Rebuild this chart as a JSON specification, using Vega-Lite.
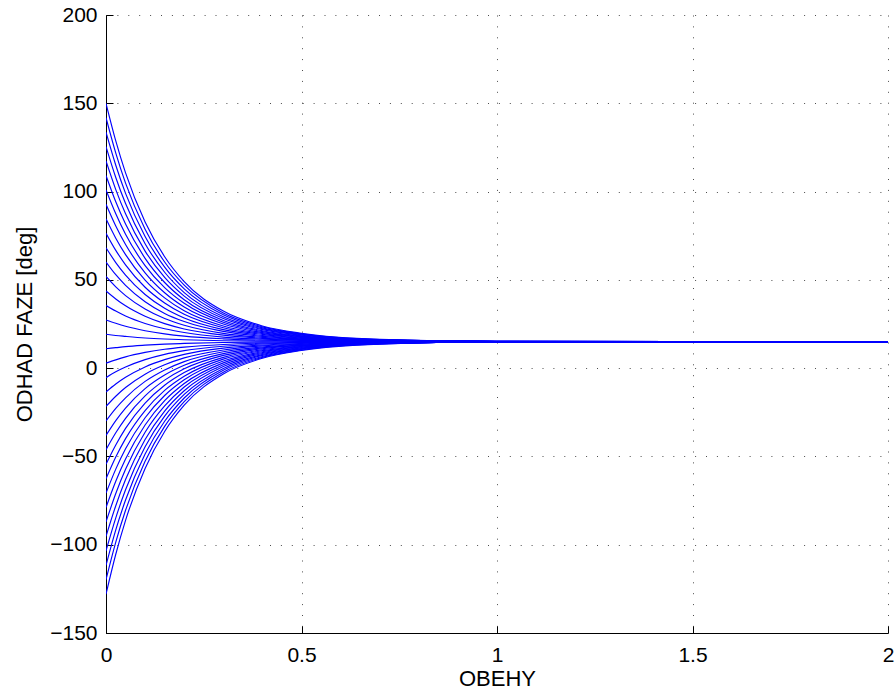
{
  "$schema": "https://vega.github.io/schema/vega-lite/v6.json",
  "width": 782,
  "height": 618,
  "autosize": {"type": "none"},
  "padding": {"left": 106, "top": 15, "right": 8, "bottom": 62},
  "background": "white",
  "config": {
    "view": {"stroke": null},
    "axis": {
      "domainColor": "#000000",
      "domainWidth": 1,
      "tickColor": "#000000",
      "tickSize": -7,
      "tickWidth": 1,
      "gridColor": "#000000",
      "gridOpacity": 0.7,
      "gridWidth": 1,
      "gridDash": [1, 9.9],
      "labelFont": "Liberation Sans",
      "labelFontSize": 21,
      "labelColor": "#000000",
      "titleFont": "Liberation Sans",
      "titleFontSize": 22,
      "titleFontWeight": "normal",
      "titleColor": "#000000"
    }
  },
  "data": {
    "values": [
      {"c":0,"x":0,"y":-128},{"c":0,"x":0.025,"y":-105.4},{"c":0,"x":0.05,"y":-86.2},{"c":0,"x":0.1,"y":-56.8},{"c":0,"x":0.15,"y":-35.9},{"c":0,"x":0.2,"y":-21.0},{"c":0,"x":0.3,"y":-3.3},{"c":0,"x":0.4,"y":5.6},{"c":0,"x":0.5,"y":10.0},{"c":0,"x":0.7,"y":13.6},{"c":0,"x":1,"y":14.8},{"c":0,"x":2,"y":15},
      {"c":1,"x":0,"y":-119.8},{"c":1,"x":0.025,"y":-98.5},{"c":1,"x":0.05,"y":-80.5},{"c":1,"x":0.1,"y":-52.7},{"c":1,"x":0.15,"y":-33.0},{"c":1,"x":0.2,"y":-19.0},{"c":1,"x":0.3,"y":-2.3},{"c":1,"x":0.4,"y":6.1},{"c":1,"x":0.5,"y":10.3},{"c":1,"x":0.7,"y":13.7},{"c":1,"x":1,"y":14.8},{"c":1,"x":2,"y":15},
      {"c":2,"x":0,"y":-111.7},{"c":2,"x":0.025,"y":-91.6},{"c":2,"x":0.05,"y":-74.7},{"c":2,"x":0.1,"y":-48.6},{"c":2,"x":0.15,"y":-30.1},{"c":2,"x":0.2,"y":-16.9},{"c":2,"x":0.3,"y":-1.2},{"c":2,"x":0.4,"y":6.6},{"c":2,"x":0.5,"y":10.6},{"c":2,"x":0.7,"y":13.8},{"c":2,"x":1,"y":14.8},{"c":2,"x":2,"y":15},
      {"c":3,"x":0,"y":-103.5},{"c":3,"x":0.025,"y":-84.8},{"c":3,"x":0.05,"y":-68.9},{"c":3,"x":0.1,"y":-44.5},{"c":3,"x":0.15,"y":-27.2},{"c":3,"x":0.2,"y":-14.9},{"c":3,"x":0.3,"y":-0.2},{"c":3,"x":0.4,"y":7.2},{"c":3,"x":0.5,"y":10.9},{"c":3,"x":0.7,"y":13.9},{"c":3,"x":1,"y":14.8},{"c":3,"x":2,"y":15},
      {"c":4,"x":0,"y":-95.3},{"c":4,"x":0.025,"y":-77.9},{"c":4,"x":0.05,"y":-63.1},{"c":4,"x":0.1,"y":-40.4},{"c":4,"x":0.15,"y":-24.3},{"c":4,"x":0.2,"y":-12.8},{"c":4,"x":0.3,"y":0.9},{"c":4,"x":0.4,"y":7.7},{"c":4,"x":0.5,"y":11.1},{"c":4,"x":0.7,"y":14.0},{"c":4,"x":1,"y":14.8},{"c":4,"x":2,"y":15},
      {"c":5,"x":0,"y":-87.1},{"c":5,"x":0.025,"y":-71.0},{"c":5,"x":0.05,"y":-57.3},{"c":5,"x":0.1,"y":-36.3},{"c":5,"x":0.15,"y":-21.4},{"c":5,"x":0.2,"y":-10.7},{"c":5,"x":0.3,"y":1.9},{"c":5,"x":0.4,"y":8.3},{"c":5,"x":0.5,"y":11.4},{"c":5,"x":0.7,"y":14.0},{"c":5,"x":1,"y":14.8},{"c":5,"x":2,"y":15},
      {"c":6,"x":0,"y":-78.9},{"c":6,"x":0.025,"y":-64.1},{"c":6,"x":0.05,"y":-51.5},{"c":6,"x":0.1,"y":-32.2},{"c":6,"x":0.15,"y":-18.4},{"c":6,"x":0.2,"y":-8.7},{"c":6,"x":0.3,"y":3.0},{"c":6,"x":0.4,"y":8.8},{"c":6,"x":0.5,"y":11.7},{"c":6,"x":0.7,"y":14.1},{"c":6,"x":1,"y":14.9},{"c":6,"x":2,"y":15},
      {"c":7,"x":0,"y":-70.8},{"c":7,"x":0.025,"y":-57.2},{"c":7,"x":0.05,"y":-45.7},{"c":7,"x":0.1,"y":-28.1},{"c":7,"x":0.15,"y":-15.5},{"c":7,"x":0.2,"y":-6.6},{"c":7,"x":0.3,"y":4.0},{"c":7,"x":0.4,"y":9.3},{"c":7,"x":0.5,"y":12.0},{"c":7,"x":0.7,"y":14.2},{"c":7,"x":1,"y":14.9},{"c":7,"x":2,"y":15},
      {"c":8,"x":0,"y":-62.6},{"c":8,"x":0.025,"y":-50.3},{"c":8,"x":0.05,"y":-39.9},{"c":8,"x":0.1,"y":-24.0},{"c":8,"x":0.15,"y":-12.6},{"c":8,"x":0.2,"y":-4.6},{"c":8,"x":0.3,"y":5.1},{"c":8,"x":0.4,"y":9.9},{"c":8,"x":0.5,"y":12.3},{"c":8,"x":0.7,"y":14.3},{"c":8,"x":1,"y":14.9},{"c":8,"x":2,"y":15},
      {"c":9,"x":0,"y":-54.4},{"c":9,"x":0.025,"y":-43.5},{"c":9,"x":0.05,"y":-34.1},{"c":9,"x":0.1,"y":-19.8},{"c":9,"x":0.15,"y":-9.7},{"c":9,"x":0.2,"y":-2.5},{"c":9,"x":0.3,"y":6.1},{"c":9,"x":0.4,"y":10.4},{"c":9,"x":0.5,"y":12.6},{"c":9,"x":0.7,"y":14.3},{"c":9,"x":1,"y":14.9},{"c":9,"x":2,"y":15},
      {"c":10,"x":0,"y":-46.2},{"c":10,"x":0.025,"y":-36.6},{"c":10,"x":0.05,"y":-28.4},{"c":10,"x":0.1,"y":-15.7},{"c":10,"x":0.15,"y":-6.8},{"c":10,"x":0.2,"y":-0.4},{"c":10,"x":0.3,"y":7.2},{"c":10,"x":0.4,"y":11.0},{"c":10,"x":0.5,"y":12.9},{"c":10,"x":0.7,"y":14.4},{"c":10,"x":1,"y":14.9},{"c":10,"x":2,"y":15},
      {"c":11,"x":0,"y":-38.1},{"c":11,"x":0.025,"y":-29.7},{"c":11,"x":0.05,"y":-22.6},{"c":11,"x":0.1,"y":-11.6},{"c":11,"x":0.15,"y":-3.9},{"c":11,"x":0.2,"y":1.6},{"c":11,"x":0.3,"y":8.2},{"c":11,"x":0.4,"y":11.5},{"c":11,"x":0.5,"y":13.1},{"c":11,"x":0.7,"y":14.5},{"c":11,"x":1,"y":14.9},{"c":11,"x":2,"y":15},
      {"c":12,"x":0,"y":-29.9},{"c":12,"x":0.025,"y":-22.8},{"c":12,"x":0.05,"y":-16.8},{"c":12,"x":0.1,"y":-7.5},{"c":12,"x":0.15,"y":-1.0},{"c":12,"x":0.2,"y":3.7},{"c":12,"x":0.3,"y":9.3},{"c":12,"x":0.4,"y":12.0},{"c":12,"x":0.5,"y":13.4},{"c":12,"x":0.7,"y":14.6},{"c":12,"x":1,"y":14.9},{"c":12,"x":2,"y":15},
      {"c":13,"x":0,"y":-21.7},{"c":13,"x":0.025,"y":-15.9},{"c":13,"x":0.05,"y":-11.0},{"c":13,"x":0.1,"y":-3.4},{"c":13,"x":0.15,"y":1.9},{"c":13,"x":0.2,"y":5.8},{"c":13,"x":0.3,"y":10.3},{"c":13,"x":0.4,"y":12.6},{"c":13,"x":0.5,"y":13.7},{"c":13,"x":0.7,"y":14.7},{"c":13,"x":1,"y":14.9},{"c":13,"x":2,"y":15},
      {"c":14,"x":0,"y":-13.5},{"c":14,"x":0.025,"y":-9.0},{"c":14,"x":0.05,"y":-5.2},{"c":14,"x":0.1,"y":0.7},{"c":14,"x":0.15,"y":4.8},{"c":14,"x":0.2,"y":7.8},{"c":14,"x":0.3,"y":11.3},{"c":14,"x":0.4,"y":13.1},{"c":14,"x":0.5,"y":14.0},{"c":14,"x":0.7,"y":14.7},{"c":14,"x":1,"y":15.0},{"c":14,"x":2,"y":15},
      {"c":15,"x":0,"y":-5.4},{"c":15,"x":0.025,"y":-2.1},{"c":15,"x":0.05,"y":0.6},{"c":15,"x":0.1,"y":4.8},{"c":15,"x":0.15,"y":7.8},{"c":15,"x":0.2,"y":9.9},{"c":15,"x":0.3,"y":12.4},{"c":15,"x":0.4,"y":13.7},{"c":15,"x":0.5,"y":14.3},{"c":15,"x":0.7,"y":14.8},{"c":15,"x":1,"y":15.0},{"c":15,"x":2,"y":15},
      {"c":16,"x":0,"y":2.8},{"c":16,"x":0.025,"y":4.7},{"c":16,"x":0.05,"y":6.4},{"c":16,"x":0.1,"y":8.9},{"c":16,"x":0.15,"y":10.7},{"c":16,"x":0.2,"y":11.9},{"c":16,"x":0.3,"y":13.4},{"c":16,"x":0.4,"y":14.2},{"c":16,"x":0.5,"y":14.6},{"c":16,"x":0.7,"y":14.9},{"c":16,"x":1,"y":15.0},{"c":16,"x":2,"y":15},
      {"c":17,"x":0,"y":11.0},{"c":17,"x":0.025,"y":11.6},{"c":17,"x":0.05,"y":12.2},{"c":17,"x":0.1,"y":13.0},{"c":17,"x":0.15,"y":13.6},{"c":17,"x":0.2,"y":14.0},{"c":17,"x":0.3,"y":14.5},{"c":17,"x":0.4,"y":14.7},{"c":17,"x":0.5,"y":14.9},{"c":17,"x":0.7,"y":15.0},{"c":17,"x":1,"y":15.0},{"c":17,"x":2,"y":15},
      {"c":18,"x":0,"y":19.2},{"c":18,"x":0.025,"y":18.5},{"c":18,"x":0.05,"y":18.0},{"c":18,"x":0.1,"y":17.1},{"c":18,"x":0.15,"y":16.5},{"c":18,"x":0.2,"y":16.1},{"c":18,"x":0.3,"y":15.5},{"c":18,"x":0.4,"y":15.3},{"c":18,"x":0.5,"y":15.1},{"c":18,"x":0.7,"y":15.0},{"c":18,"x":1,"y":15.0},{"c":18,"x":2,"y":15},
      {"c":19,"x":0,"y":27.3},{"c":19,"x":0.025,"y":25.4},{"c":19,"x":0.05,"y":23.7},{"c":19,"x":0.1,"y":21.2},{"c":19,"x":0.15,"y":19.4},{"c":19,"x":0.2,"y":18.1},{"c":19,"x":0.3,"y":16.6},{"c":19,"x":0.4,"y":15.8},{"c":19,"x":0.5,"y":15.4},{"c":19,"x":0.7,"y":15.1},{"c":19,"x":1,"y":15.0},{"c":19,"x":2,"y":15},
      {"c":20,"x":0,"y":35.5},{"c":20,"x":0.025,"y":32.3},{"c":20,"x":0.05,"y":29.5},{"c":20,"x":0.1,"y":25.3},{"c":20,"x":0.15,"y":22.3},{"c":20,"x":0.2,"y":20.2},{"c":20,"x":0.3,"y":17.6},{"c":20,"x":0.4,"y":16.4},{"c":20,"x":0.5,"y":15.7},{"c":20,"x":0.7,"y":15.2},{"c":20,"x":1,"y":15.0},{"c":20,"x":2,"y":15},
      {"c":21,"x":0,"y":43.7},{"c":21,"x":0.025,"y":39.2},{"c":21,"x":0.05,"y":35.3},{"c":21,"x":0.1,"y":29.4},{"c":21,"x":0.15,"y":25.2},{"c":21,"x":0.2,"y":22.2},{"c":21,"x":0.3,"y":18.7},{"c":21,"x":0.4,"y":16.9},{"c":21,"x":0.5,"y":16.0},{"c":21,"x":0.7,"y":15.3},{"c":21,"x":1,"y":15.0},{"c":21,"x":2,"y":15},
      {"c":22,"x":0,"y":51.9},{"c":22,"x":0.025,"y":46.0},{"c":22,"x":0.05,"y":41.1},{"c":22,"x":0.1,"y":33.5},{"c":22,"x":0.15,"y":28.1},{"c":22,"x":0.2,"y":24.3},{"c":22,"x":0.3,"y":19.7},{"c":22,"x":0.4,"y":17.4},{"c":22,"x":0.5,"y":16.3},{"c":22,"x":0.7,"y":15.4},{"c":22,"x":1,"y":15.1},{"c":22,"x":2,"y":15},
      {"c":23,"x":0,"y":60.1},{"c":23,"x":0.025,"y":52.9},{"c":23,"x":0.05,"y":46.9},{"c":23,"x":0.1,"y":37.6},{"c":23,"x":0.15,"y":31.0},{"c":23,"x":0.2,"y":26.4},{"c":23,"x":0.3,"y":20.8},{"c":23,"x":0.4,"y":18.0},{"c":23,"x":0.5,"y":16.6},{"c":23,"x":0.7,"y":15.4},{"c":23,"x":1,"y":15.1},{"c":23,"x":2,"y":15},
      {"c":24,"x":0,"y":68.2},{"c":24,"x":0.025,"y":59.8},{"c":24,"x":0.05,"y":52.7},{"c":24,"x":0.1,"y":41.7},{"c":24,"x":0.15,"y":33.9},{"c":24,"x":0.2,"y":28.4},{"c":24,"x":0.3,"y":21.8},{"c":24,"x":0.4,"y":18.5},{"c":24,"x":0.5,"y":16.9},{"c":24,"x":0.7,"y":15.5},{"c":24,"x":1,"y":15.1},{"c":24,"x":2,"y":15},
      {"c":25,"x":0,"y":76.4},{"c":25,"x":0.025,"y":66.7},{"c":25,"x":0.05,"y":58.5},{"c":25,"x":0.1,"y":45.8},{"c":25,"x":0.15,"y":36.9},{"c":25,"x":0.2,"y":30.5},{"c":25,"x":0.3,"y":22.9},{"c":25,"x":0.4,"y":19.1},{"c":25,"x":0.5,"y":17.1},{"c":25,"x":0.7,"y":15.6},{"c":25,"x":1,"y":15.1},{"c":25,"x":2,"y":15},
      {"c":26,"x":0,"y":84.6},{"c":26,"x":0.025,"y":73.6},{"c":26,"x":0.05,"y":64.3},{"c":26,"x":0.1,"y":49.9},{"c":26,"x":0.15,"y":39.8},{"c":26,"x":0.2,"y":32.5},{"c":26,"x":0.3,"y":23.9},{"c":26,"x":0.4,"y":19.6},{"c":26,"x":0.5,"y":17.4},{"c":26,"x":0.7,"y":15.7},{"c":26,"x":1,"y":15.1},{"c":26,"x":2,"y":15},
      {"c":27,"x":0,"y":92.8},{"c":27,"x":0.025,"y":80.5},{"c":27,"x":0.05,"y":70.0},{"c":27,"x":0.1,"y":54.0},{"c":27,"x":0.15,"y":42.7},{"c":27,"x":0.2,"y":34.6},{"c":27,"x":0.3,"y":25.0},{"c":27,"x":0.4,"y":20.1},{"c":27,"x":0.5,"y":17.7},{"c":27,"x":0.7,"y":15.7},{"c":27,"x":1,"y":15.1},{"c":27,"x":2,"y":15},
      {"c":28,"x":0,"y":100.9},{"c":28,"x":0.025,"y":87.4},{"c":28,"x":0.05,"y":75.8},{"c":28,"x":0.1,"y":58.1},{"c":28,"x":0.15,"y":45.6},{"c":28,"x":0.2,"y":36.7},{"c":28,"x":0.3,"y":26.0},{"c":28,"x":0.4,"y":20.7},{"c":28,"x":0.5,"y":18.0},{"c":28,"x":0.7,"y":15.8},{"c":28,"x":1,"y":15.1},{"c":28,"x":2,"y":15},
      {"c":29,"x":0,"y":109.1},{"c":29,"x":0.025,"y":94.2},{"c":29,"x":0.05,"y":81.6},{"c":29,"x":0.1,"y":62.2},{"c":29,"x":0.15,"y":48.5},{"c":29,"x":0.2,"y":38.7},{"c":29,"x":0.3,"y":27.0},{"c":29,"x":0.4,"y":21.2},{"c":29,"x":0.5,"y":18.3},{"c":29,"x":0.7,"y":15.9},{"c":29,"x":1,"y":15.1},{"c":29,"x":2,"y":15},
      {"c":30,"x":0,"y":117.3},{"c":30,"x":0.025,"y":101.1},{"c":30,"x":0.05,"y":87.4},{"c":30,"x":0.1,"y":66.3},{"c":30,"x":0.15,"y":51.4},{"c":30,"x":0.2,"y":40.8},{"c":30,"x":0.3,"y":28.1},{"c":30,"x":0.4,"y":21.8},{"c":30,"x":0.5,"y":18.6},{"c":30,"x":0.7,"y":16.0},{"c":30,"x":1,"y":15.2},{"c":30,"x":2,"y":15},
      {"c":31,"x":0,"y":125.5},{"c":31,"x":0.025,"y":108.0},{"c":31,"x":0.05,"y":93.2},{"c":31,"x":0.1,"y":70.5},{"c":31,"x":0.15,"y":54.3},{"c":31,"x":0.2,"y":42.8},{"c":31,"x":0.3,"y":29.1},{"c":31,"x":0.4,"y":22.3},{"c":31,"x":0.5,"y":18.9},{"c":31,"x":0.7,"y":16.0},{"c":31,"x":1,"y":15.2},{"c":31,"x":2,"y":15},
      {"c":32,"x":0,"y":133.6},{"c":32,"x":0.025,"y":114.9},{"c":32,"x":0.05,"y":99.0},{"c":32,"x":0.1,"y":74.6},{"c":32,"x":0.15,"y":57.2},{"c":32,"x":0.2,"y":44.9},{"c":32,"x":0.3,"y":30.2},{"c":32,"x":0.4,"y":22.8},{"c":32,"x":0.5,"y":19.2},{"c":32,"x":0.7,"y":16.1},{"c":32,"x":1,"y":15.2},{"c":32,"x":2,"y":15},
      {"c":33,"x":0,"y":141.8},{"c":33,"x":0.025,"y":121.8},{"c":33,"x":0.05,"y":104.8},{"c":33,"x":0.1,"y":78.7},{"c":33,"x":0.15,"y":60.1},{"c":33,"x":0.2,"y":47.0},{"c":33,"x":0.3,"y":31.2},{"c":33,"x":0.4,"y":23.4},{"c":33,"x":0.5,"y":19.4},{"c":33,"x":0.7,"y":16.2},{"c":33,"x":1,"y":15.2},{"c":33,"x":2,"y":15},
      {"c":34,"x":0,"y":150},{"c":34,"x":0.025,"y":128.7},{"c":34,"x":0.05,"y":110.6},{"c":34,"x":0.1,"y":82.8},{"c":34,"x":0.15,"y":63.1},{"c":34,"x":0.2,"y":49.0},{"c":34,"x":0.3,"y":32.3},{"c":34,"x":0.4,"y":23.9},{"c":34,"x":0.5,"y":19.7},{"c":34,"x":0.7,"y":16.3},{"c":34,"x":1,"y":15.2},{"c":34,"x":2,"y":15}
    ]
  },
  "mark": {"type": "line", "color": "#0000ff", "strokeWidth": 1.15, "interpolate": "monotone", "clip": true},
  "encoding": {
    "x": {
      "field": "x",
      "type": "quantitative",
      "scale": {"domain": [0, 2], "nice": false, "zero": false},
      "axis": {
        "title": "OBEHY",
        "values": [0, 0.5, 1, 1.5, 2],
        "labelExpr": "'' + datum.value",
        "labelPadding": 18,
        "labelFlush": false,
        "titlePadding": 3
      }
    },
    "y": {
      "field": "y",
      "type": "quantitative",
      "scale": {"domain": [-150, 200], "nice": false, "zero": false},
      "axis": {
        "title": "ODHAD FAZE [deg]",
        "values": [-150, -100, -50, 0, 50, 100, 150, 200],
        "labelPadding": 16,
        "labelFlush": false,
        "titlePadding": 13
      }
    },
    "detail": {"field": "c", "type": "nominal"}
  }
}
